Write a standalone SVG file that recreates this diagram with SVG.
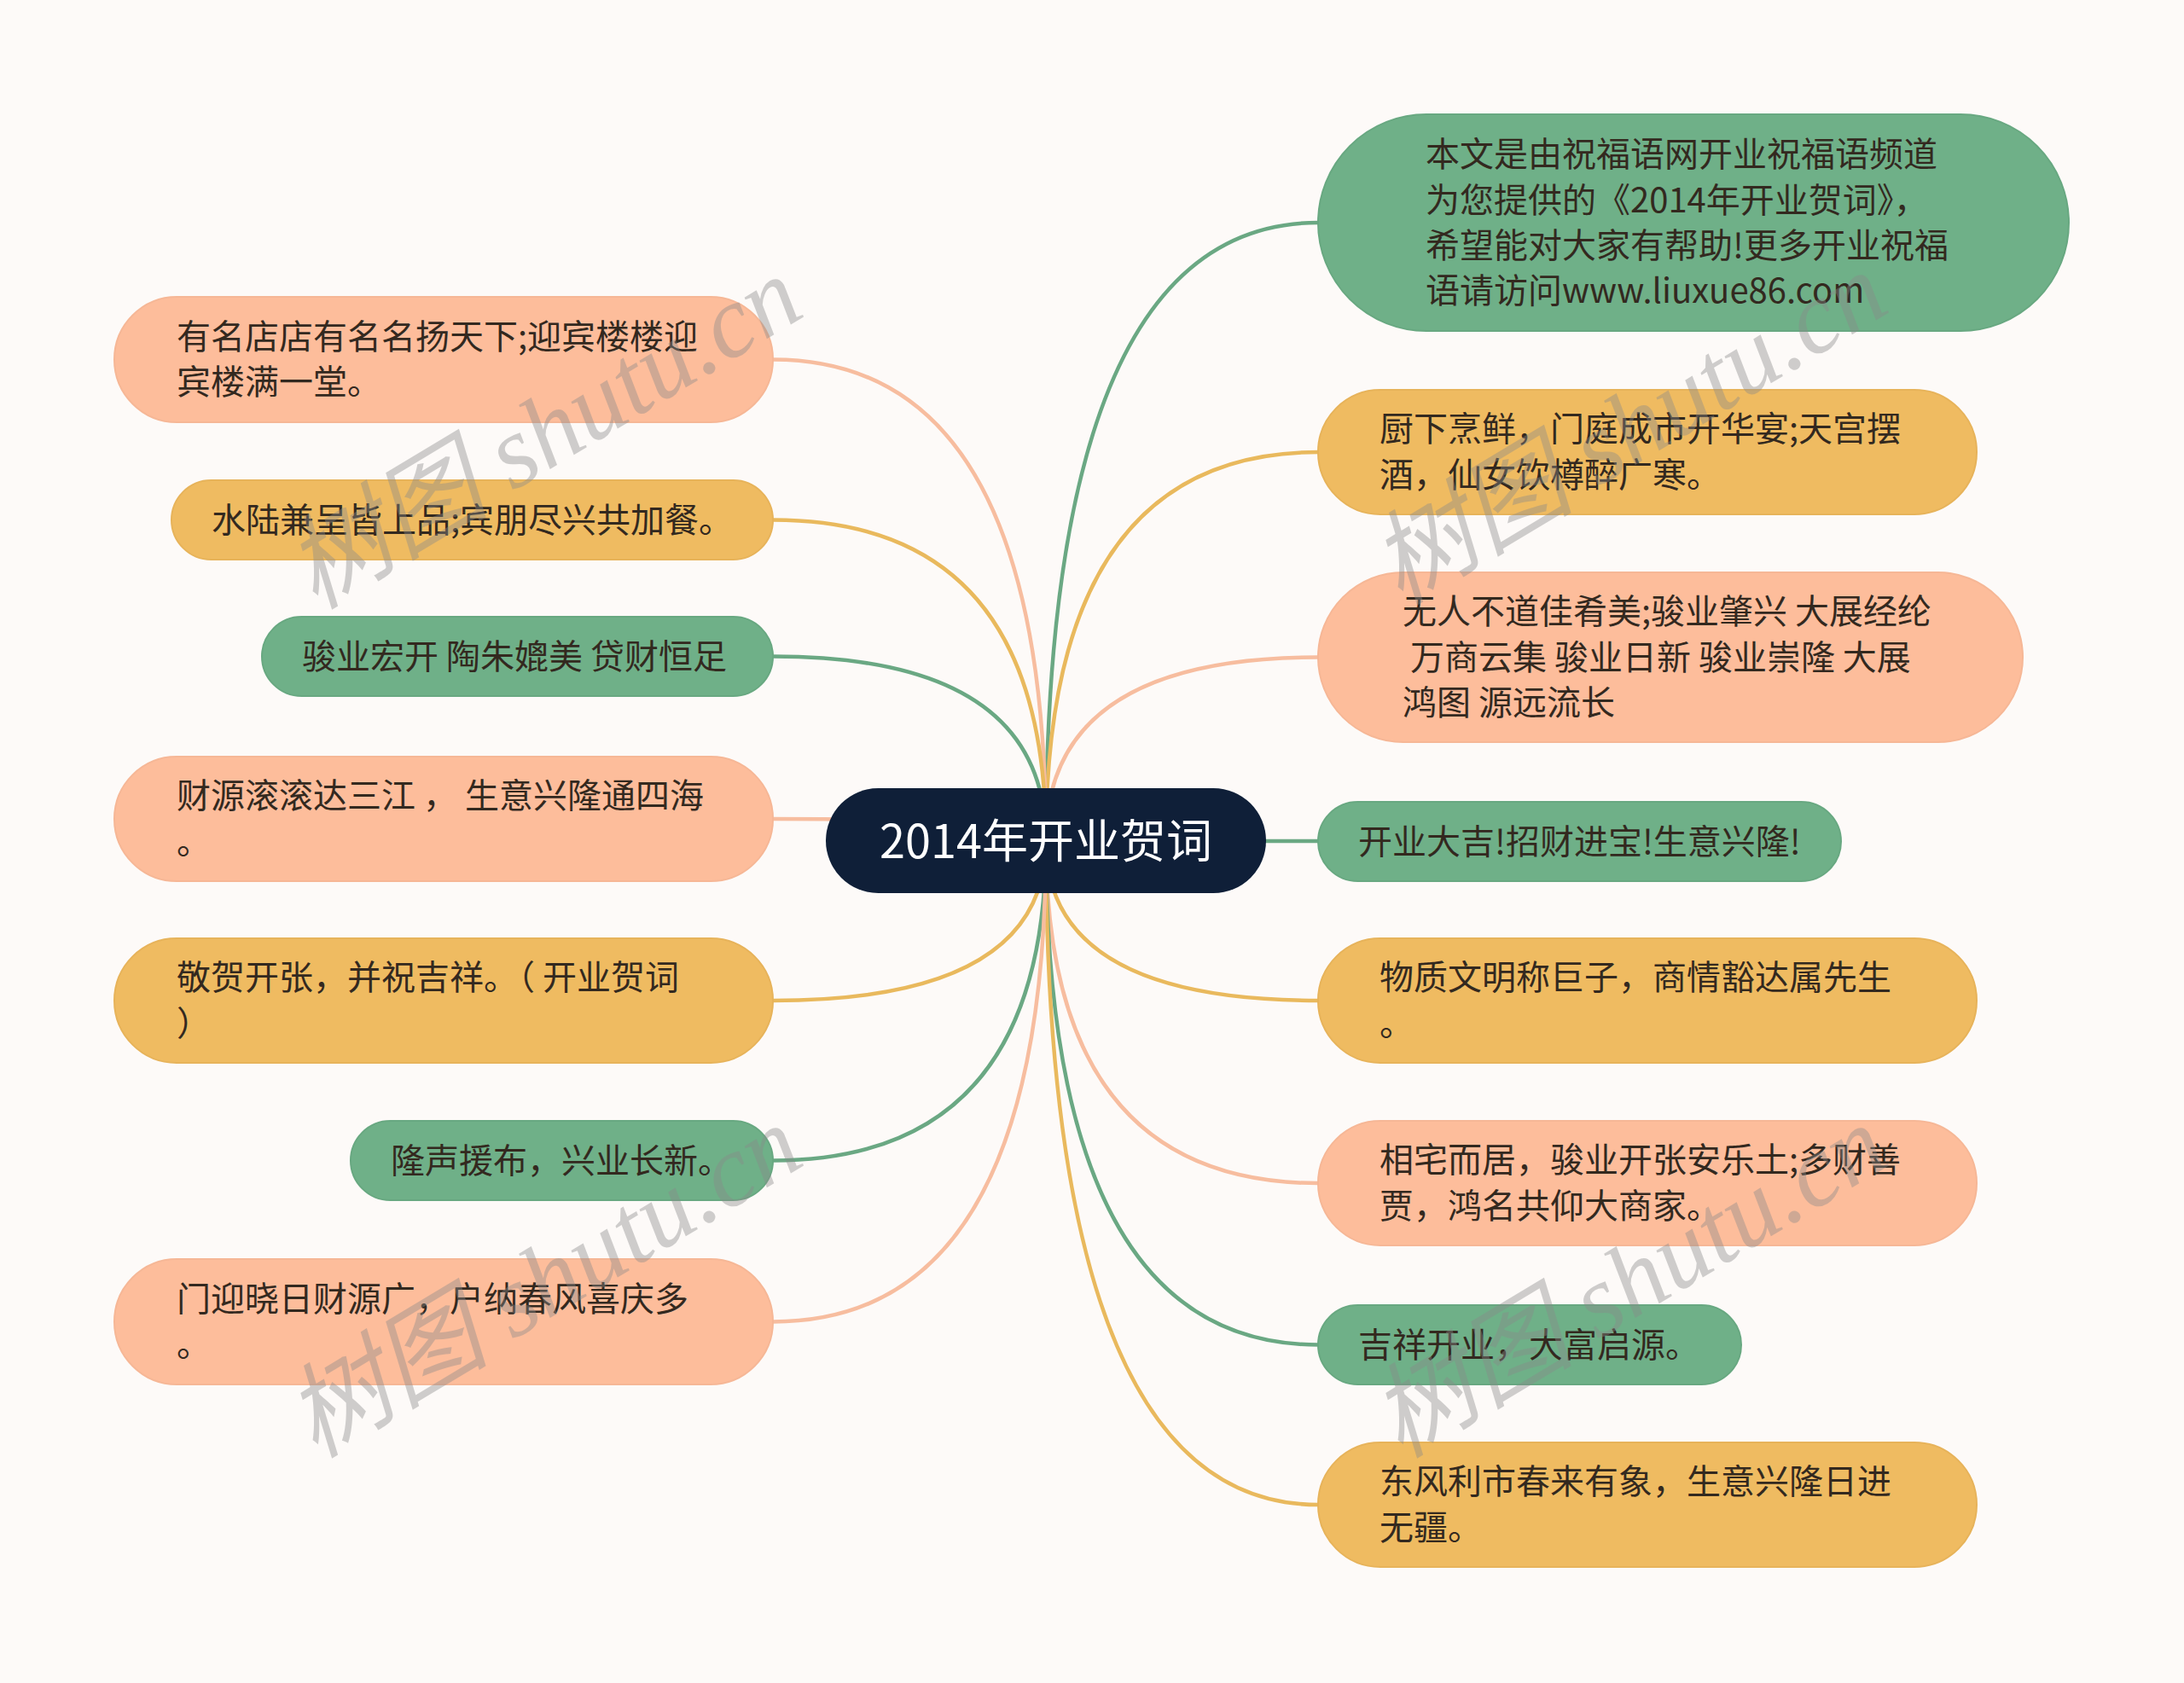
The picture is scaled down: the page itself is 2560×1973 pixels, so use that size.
<svg xmlns="http://www.w3.org/2000/svg" width="2560" height="1973" viewBox="0 0 2560 1973">
<style>
.bg{fill:#fdfaf8}
.n-green{fill:#6fb088;stroke:#68a881;stroke-width:2}
.n-yellow{fill:#efbb61;stroke:#e7b35a;stroke-width:2}
.n-salmon{fill:#fdbd9b;stroke:#f6b796;stroke-width:2}
.n-root{fill:#0f1f38}
.t{font-family:"Noto Sans CJK SC","Noto Sans",sans-serif;font-size:40px;fill:#33291f}
.troot{font-family:"Noto Sans CJK SC","Noto Sans",sans-serif;font-size:54px;fill:#ffffff;text-anchor:middle}
.c{fill:none;stroke-width:4.5}
.c-green{stroke:#6aa883}
.c-yellow{stroke:#e9b95d}
.c-salmon{stroke:#f7bd9f}
.wm{font-family:"Liberation Serif","Noto Sans CJK SC",serif;font-style:italic;font-size:120px;fill:#8a8a8a;opacity:0.4;text-anchor:middle}
</style>
<rect class="bg" x="0" y="0" width="2560" height="1973"/>
<g id="connectors">
<path class="c c-green" d="M1226,986 Q1226,261 1545,261"/>
<path class="c c-yellow" d="M1226,986 Q1226,530 1545,530"/>
<path class="c c-salmon" d="M1226,986 Q1226,770.5 1545,770.5"/>
<path class="c c-green" d="M1226,986 L1545,986"/>
<path class="c c-yellow" d="M1226,986 Q1226,1173 1545,1173"/>
<path class="c c-salmon" d="M1226,986 Q1226,1387 1545,1387"/>
<path class="c c-green" d="M1226,986 Q1226,1576.5 1545,1576.5"/>
<path class="c c-yellow" d="M1226,986 Q1226,1764 1545,1764"/>
<path class="c c-salmon" d="M1226,986 Q1226,421.5 906,421.5"/>
<path class="c c-yellow" d="M1226,986 Q1226,609.5 906,609.5"/>
<path class="c c-green" d="M1226,986 Q1226,769.5 906,769.5"/>
<path class="c c-salmon" d="M1226,986 Q1226,960 906,960"/>
<path class="c c-yellow" d="M1226,986 Q1226,1173 906,1173"/>
<path class="c c-green" d="M1226,986 Q1226,1360.5 906,1360.5"/>
<path class="c c-salmon" d="M1226,986 Q1226,1549.5 906,1549.5"/>
</g>
<g id="root">
<rect class="n-root" x="968" y="924" width="516" height="123" rx="61.5"/>
<text class="troot" x="1226" y="1006">2014年开业贺词</text>
</g>
<g id="r1">
<rect class="n-green" x="1545" y="134" width="880" height="254" rx="127"/>
<text class="t" x="1671" y="195">本文是由祝福语网开业祝福语频道</text>
<text class="t" x="1671" y="248.5">为您提供的《2014年开业贺词》，</text>
<text class="t" x="1671" y="302">希望能对大家有帮助!更多开业祝福</text>
<text class="t" x="1671" y="355">语请访问www.liuxue86.com</text>
</g>
<g id="r2">
<rect class="n-yellow" x="1545" y="457" width="772" height="146" rx="73"/>
<text class="t" x="1617" y="517">厨下烹鲜，门庭成市开华宴;天宫摆</text>
<text class="t" x="1617" y="571">酒，仙女饮樽醉广寒。</text>
</g>
<g id="r3">
<rect class="n-salmon" x="1545" y="671" width="826" height="199" rx="99.5"/>
<text class="t" x="1644" y="731">无人不道佳肴美;骏业肇兴 大展经纶</text>
<text class="t" x="1644" y="784.5" xml:space="preserve"> 万商云集 骏业日新 骏业崇隆 大展</text>
<text class="t" x="1644" y="838">鸿图 源远流长</text>
</g>
<g id="r4">
<rect class="n-green" x="1545" y="940" width="613" height="93" rx="46.5"/>
<text class="t" x="1592" y="1000.5">开业大吉!招财进宝!生意兴隆!</text>
</g>
<g id="r5">
<rect class="n-yellow" x="1545" y="1100" width="772" height="146" rx="73"/>
<text class="t" x="1617" y="1160">物质文明称巨子，商情豁达属先生</text>
<text class="t" x="1617" y="1214">。</text>
</g>
<g id="r6">
<rect class="n-salmon" x="1545" y="1314" width="772" height="146" rx="73"/>
<text class="t" x="1617" y="1374">相宅而居，骏业开张安乐土;多财善</text>
<text class="t" x="1617" y="1428">贾，鸿名共仰大商家。</text>
</g>
<g id="r7">
<rect class="n-green" x="1545" y="1530" width="496" height="93" rx="46.5"/>
<text class="t" x="1592" y="1590.5">吉祥开业，大富启源。</text>
</g>
<g id="r8">
<rect class="n-yellow" x="1545" y="1691" width="772" height="146" rx="73"/>
<text class="t" x="1617" y="1751">东风利市春来有象，生意兴隆日进</text>
<text class="t" x="1617" y="1805">无疆。</text>
</g>
<g id="l1">
<rect class="n-salmon" x="134" y="348" width="772" height="147" rx="73.5"/>
<text class="t" x="207" y="409">有名店店有名名扬天下;迎宾楼楼迎</text>
<text class="t" x="207" y="462">宾楼满一堂。</text>
</g>
<g id="l2">
<rect class="n-yellow" x="201" y="563" width="705" height="93" rx="46.5"/>
<text class="t" x="248" y="623.5">水陆兼呈皆上品;宾朋尽兴共加餐。</text>
</g>
<g id="l3">
<rect class="n-green" x="307" y="723" width="599" height="93" rx="46.5"/>
<text class="t" x="354" y="783.5">骏业宏开 陶朱媲美 贷财恒足</text>
</g>
<g id="l4">
<rect class="n-salmon" x="134" y="887" width="772" height="146" rx="73"/>
<text class="t" x="207" y="947">财源滚滚达三江 ， 生意兴隆通四海</text>
<text class="t" x="207" y="1001">。</text>
</g>
<g id="l5">
<rect class="n-yellow" x="134" y="1100" width="772" height="146" rx="73"/>
<text class="t" x="207" y="1160" xml:space="preserve">敬贺开张，并祝吉祥。（ 开业贺词</text>
<text class="t" x="207" y="1214">）</text>
</g>
<g id="l6">
<rect class="n-green" x="411" y="1314" width="495" height="93" rx="46.5"/>
<text class="t" x="458" y="1374.5">隆声援布，兴业长新。</text>
</g>
<g id="l7">
<rect class="n-salmon" x="134" y="1476" width="772" height="147" rx="73.5"/>
<text class="t" x="207" y="1537">门迎晓日财源广，户纳春风喜庆多</text>
<text class="t" x="207" y="1590">。</text>
</g>
<g id="watermarks">
<text class="wm" transform="translate(658,542) rotate(-31)">树图 shutu.cn</text>
<text class="wm" transform="translate(1930,537) rotate(-31)">树图 shutu.cn</text>
<text class="wm" transform="translate(658,1537) rotate(-31)">树图 shutu.cn</text>
<text class="wm" transform="translate(1930,1537) rotate(-31)">树图 shutu.cn</text>
</g>
</svg>
